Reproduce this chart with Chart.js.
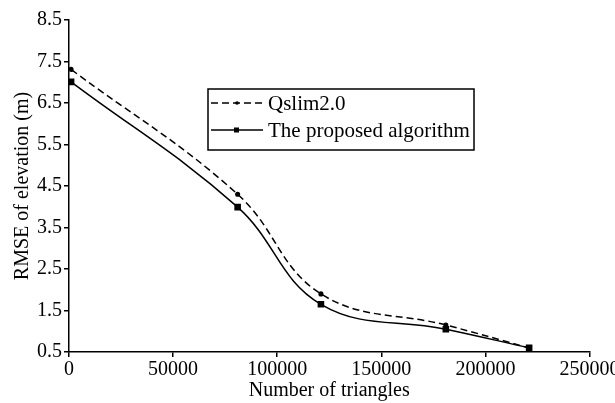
<!DOCTYPE html>
<html>
<head>
<meta charset="utf-8">
<script src="https://cdn.jsdelivr.net/npm/chart.js@4.4.1/dist/chart.umd.min.js"></script>
<style>
  html, body { margin: 0; padding: 0; background: #fff; }
  #wrap { width: 615px; height: 403px; }
</style>
</head>
<body>
<div id="wrap"><canvas id="Chart"></canvas></div>
<script>
// values
const triangles = [1000, 81000, 121000, 181000, 221000];
const qslim = [7.31, 4.30, 1.90, 1.15, 0.60];
const proposed = [7.01, 3.99, 1.65, 1.05, 0.60];
const seriesNames = ["Qslim2.0", "The proposed algorithm"];
const xTicks = [0, 50000, 100000, 150000, 200000, 250000];
const yTicks = ["0.5", "1.5", "2.5", "3.5", "4.5", "5.5", "6.5", "7.5", "8.5"];

const font = "Liberation Serif";

// legend box drawn inside the plot, like the original figure
const boxLegend = {
  id: "boxLegend",
  afterDraw(chart) {
    const ctx = chart.ctx;
    const x = 208, y = 89, w = 266, h = 61;
    ctx.save();
    ctx.fillStyle = "#fff";
    ctx.fillRect(x, y, w, h);
    ctx.strokeStyle = "#000";
    ctx.lineWidth = 1.5;
    ctx.strokeRect(x, y, w, h);
    const rows = [103, 130];
    chart.data.datasets.forEach((ds, i) => {
      const ry = rows[i];
      ctx.beginPath();
      ctx.setLineDash(ds.borderDash || []);
      ctx.lineWidth = ds.borderWidth;
      ctx.moveTo(x + 3, ry);
      ctx.lineTo(x + 55, ry);
      ctx.stroke();
      ctx.setLineDash([]);
      ctx.fillStyle = "#000";
      if (ds.pointStyle === "rect") {
        ctx.fillRect(x + 26, ry - 2.5, 5, 5);
      } else {
        ctx.beginPath();
        ctx.arc(x + 29, ry, 1.8, 0, Math.PI * 2);
        ctx.fill();
      }
      ctx.font = "21px '" + font + "'";
      ctx.textBaseline = "middle";
      ctx.fillText(ds.label, x + 60, ry + 1);
    });
    ctx.restore();
  }
};

new Chart("Chart", {
  type: "line",
  data: {
    datasets: [
      {
        label: seriesNames[0],
        data: triangles.map((t, i) => ({ x: t, y: qslim[i] })),
        borderColor: "#000",
        backgroundColor: "#000",
        borderWidth: 1.5,
        borderDash: [7, 4],
        pointStyle: "circle",
        pointRadius: 1.8,
        tension: 0.4,
      },
      {
        label: seriesNames[1],
        data: triangles.map((t, i) => ({ x: t, y: proposed[i] })),
        borderColor: "#000",
        backgroundColor: "#000",
        borderWidth: 1.5,
        pointStyle: "rect",
        pointRadius: 3.6,
        tension: 0.4,
      },
    ],
  },
  options: {
    responsive: true,
    maintainAspectRatio: false,
    animation: false,
    layout: { padding: { top: 20, right: 25.5, left: 0, bottom: 0 } },
    plugins: { legend: { display: false }, tooltip: { enabled: false } },
    scales: {
      x: {
        type: "linear",
        min: 0,
        max: 250000,
        afterBuildTicks: (s) => { s.ticks = xTicks.map((v) => ({ value: v })); },
        afterFit: (s) => { s.height = 51; s.paddingRight = 0; s.paddingLeft = 0; },
        grid: { display: true, drawOnChartArea: false, drawTicks: true, tickLength: 5, color: "#000", lineWidth: 1.5 },
        border: { color: "#000", width: 1.5 },
        ticks: { color: "#000", font: { family: font, size: 20 }, padding: 1, maxRotation: 0, callback: (v) => String(v) },
        title: { display: true, text: "Number of triangles", color: "#000", font: { family: font, size: 20 }, padding: { top: 0, bottom: 0 } },
      },
      y: {
        min: 0.5,
        max: 8.5,
        afterBuildTicks: (s) => { s.ticks = yTicks.map((v) => ({ value: parseFloat(v) })); },
        afterFit: (s) => { s.width = 69; },
        grid: { display: true, drawOnChartArea: false, drawTicks: true, tickLength: 5, color: "#000", lineWidth: 1.5 },
        border: { color: "#000", width: 1.5 },
        ticks: { color: "#000", font: { family: font, size: 20 }, padding: 2, callback: (v) => yTicks.find((t) => parseFloat(t) === v) },
        title: { display: true, text: "RMSE of elevation (m)", color: "#000", font: { family: font, size: 20 }, padding: { top: 11, bottom: 0 } },
      },
    },
  },
  plugins: [boxLegend],
});
</script>
</body>
</html>
